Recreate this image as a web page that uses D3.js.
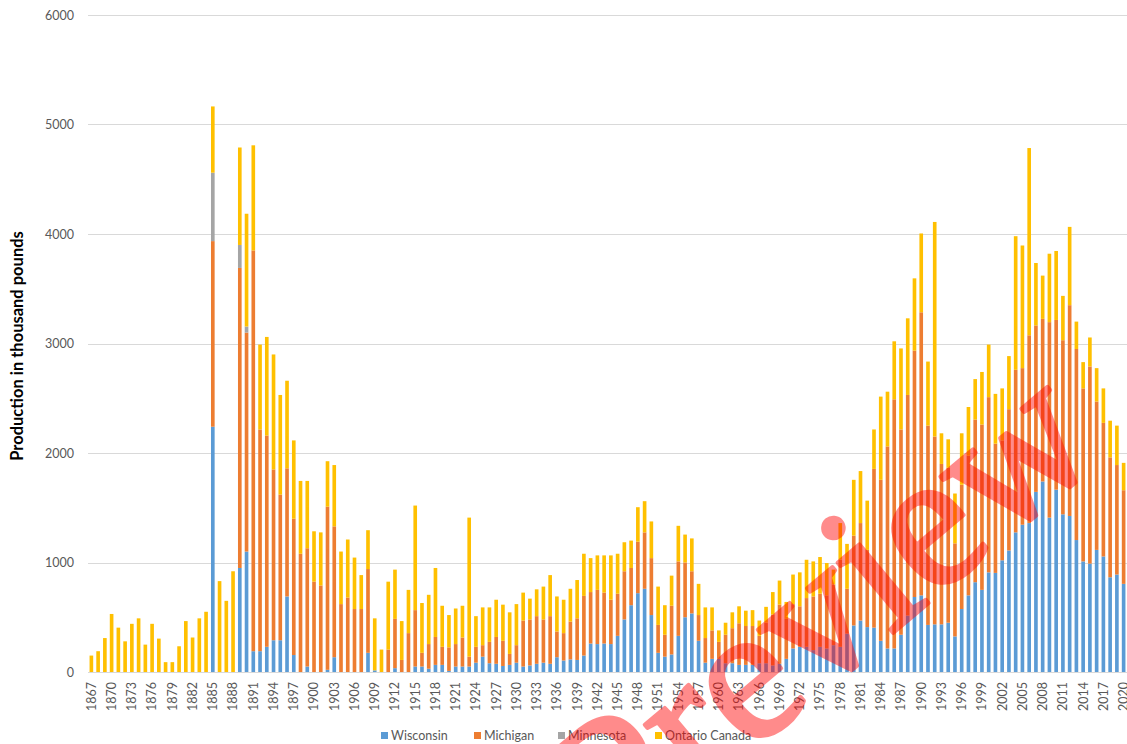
<!DOCTYPE html>
<html>
<head>
<meta charset="utf-8">
<script src="https://cdn.jsdelivr.net/npm/d3@7"></script>
<style>
	body { margin: 0; background: #fff; }
	text { font-family: Lato, "Open Sans", sans-serif; }
</style>
</head>
<body>
<script>
"use strict";

// years on the category axis
var firstYear = 1867, lastYear = 2020;
var years = d3.range(firstYear, lastYear + 1);

// production in thousand pounds, one value per year (1867 ... 2020)
var wisconsin = [
	0, 0, 0, 0, 0, 0, 0, 0, 0, 0,
	0, 0, 0, 0, 0, 0, 0, 0, 2240, 0,
	0, 0, 950, 1100, 190, 190, 230, 290, 290, 690,
	155, 0, 50, 0, 0, 20, 135, 0, 0, 0,
	0, 175, 15, 0, 0, 35, 0, 0, 50, 50,
	30, 65, 65, 10, 50, 50, 50, 85, 140, 80,
	75, 55, 65, 85, 50, 60, 75, 85, 75, 135,
	105, 115, 110, 150, 260, 255, 260, 255, 330, 480,
	610, 720, 760, 520, 175, 140, 160, 330, 500, 535,
	285, 85, 120, 120, 80, 80, 65, 65, 65, 80,
	80, 60, 75, 120, 215, 230, 230, 200, 230, 215,
	245, 230, 350, 425, 470, 410, 405, 285, 215, 215,
	340, 515, 685, 700, 430, 435, 435, 450, 325, 575,
	700, 820, 750, 910, 905, 1020, 1110, 1275, 1345, 1360,
	1645, 1740, 1410, 1665, 1440, 1425, 1205, 1010, 990, 1115,
	1055, 865, 890, 805
];

var michigan = [
	0, 0, 0, 0, 0, 0, 0, 0, 0, 0,
	0, 0, 0, 0, 0, 0, 0, 0, 1695, 0,
	0, 0, 2740, 2000, 3660, 2025, 1930, 1560, 1330, 1170,
	1245, 1080, 1080, 825, 790, 1490, 1195, 620, 680, 575,
	575, 765, 0, 0, 205, 450, 110, 355, 515, 125,
	225, 255, 165, 215, 205, 265, 90, 145, 105, 195,
	245, 230, 100, 160, 420, 420, 435, 395, 435, 235,
	250, 345, 380, 545, 470, 495, 465, 405, 385, 440,
	340, 470, 515, 520, 255, 200, 445, 680, 500, 385,
	235, 225, 260, 155, 260, 320, 380, 355, 355, 250,
	370, 465, 540, 365, 405, 370, 445, 490, 485, 485,
	555, 795, 410, 820, 890, 705, 1450, 1470, 1845, 2275,
	1875, 2015, 2250, 2585, 1820, 1715, 1465, 1415, 850, 1135,
	1275, 1485, 1510, 1600, 1180, 1095, 1290, 1485, 1430, 1715,
	1520, 1485, 1785, 1550, 1590, 1925, 1745, 1580, 1800, 1355,
	1220, 1095, 1000, 855
];

var minnesota = [
	0, 0, 0, 0, 0, 0, 0, 0, 0, 0,
	0, 0, 0, 0, 0, 0, 0, 0, 625, 0,
	0, 0, 210, 55, 0, 0, 0, 0, 0, 0,
	0, 0, 0, 0, 0, 0, 0, 0, 0, 0,
	0, 0, 0, 0, 0, 0, 0, 0, 0, 0,
	0, 0, 0, 0, 0, 0, 0, 0, 0, 0,
	0, 0, 0, 0, 0, 0, 0, 0, 0, 0,
	0, 0, 0, 0, 0, 0, 0, 0, 0, 0,
	0, 0, 0, 0, 0, 0, 0, 0, 0, 0,
	0, 0, 0, 0, 0, 0, 0, 0, 0, 0,
	0, 0, 0, 0, 0, 0, 0, 0, 0, 0,
	0, 0, 0, 0, 0, 0, 0, 0, 0, 0,
	0, 0, 0, 0, 0, 0, 0, 0, 0, 0,
	0, 0, 0, 0, 0, 0, 0, 0, 0, 0,
	0, 0, 0, 0, 0, 0, 0, 0, 0, 0,
	0, 0, 0, 0
];

var ontario = [
	150, 190, 310, 530, 405, 280, 440, 490, 250, 440,
	305, 90, 90, 235, 465, 315, 490, 550, 605, 830,
	650, 920, 890, 1030, 960, 775, 900, 1050, 910, 800,
	715, 665, 615, 460, 485, 415, 560, 480, 530, 470,
	310, 355, 475, 205, 620, 450, 355, 395, 955, 455,
	450, 630, 375, 295, 325, 290, 1270, 280, 345, 315,
	340, 330, 380, 375, 255, 190, 245, 300, 375, 320,
	305, 300, 350, 385, 310, 315, 340, 405, 365, 265,
	250, 315, 285, 335, 350, 270, 275, 325, 255, 300,
	285, 280, 210, 105, 110, 145, 155, 140, 145, 140,
	145, 205, 220, 155, 270, 310, 350, 320, 335, 295,
	135, 335, 410, 510, 475, 450, 360, 760, 500, 530,
	740, 700, 660, 720, 585, 1960, 280, 260, 455, 470,
	445, 370, 480, 480, 455, 475, 485, 1220, 1120, 1710,
	570, 395, 625, 630, 405, 715, 250, 240, 265, 305,
	315, 335, 360, 250
];

var seriesNames = ["Wisconsin", "Michigan", "Minnesota", "Ontario Canada"];
var seriesColors = ["#5b9bd5", "#ed7d31", "#a5a5a5", "#ffc000"];
var yTicks = [0, 1000, 2000, 3000, 4000, 5000, 6000];
var yTitle = "Production in thousand pounds";

// table for d3.stack
var rows = years.map(function (yr, i) {
	return {
		year: yr,
		"Wisconsin": wisconsin[i],
		"Michigan": michigan[i],
		"Minnesota": minnesota[i],
		"Ontario Canada": ontario[i]
	};
});

var width = 1127, height = 744;
var plotLeft = 88, plotRight = 1127, plotTop = 15, plotBottom = 672;

var svg = d3.select("body").append("svg")
	.attr("width", width)
	.attr("height", height);

var x = d3.scaleBand()
	.domain(years)
	.range([plotLeft, plotRight])
	.paddingInner(0.46)
	.paddingOuter(0.23);

var y = d3.scaleLinear()
	.domain([0, 6000])
	.range([plotBottom, plotTop]);

var color = d3.scaleOrdinal().domain(seriesNames).range(seriesColors);

// gridlines
svg.append("g")
	.selectAll("line")
	.data(yTicks)
	.join("line")
	.attr("x1", plotLeft)
	.attr("x2", plotRight)
	.attr("y1", function (d) { return Math.round(y(d)) + 0.5; })
	.attr("y2", function (d) { return Math.round(y(d)) + 0.5; })
	.attr("stroke", "#d9d9d9")
	.attr("stroke-width", 1);

// y axis labels
var yAxis = svg.append("g")
	.attr("transform", "translate(" + plotLeft + ",0)")
	.call(d3.axisLeft(y).tickValues(yTicks).tickSize(0).tickPadding(14).tickFormat(d3.format("d")));
yAxis.select(".domain").remove();
yAxis.selectAll("text")
	.attr("fill", "#595959")
	.style("font-size", "12.5px");

// stacked bars
var stacked = d3.stack().keys(seriesNames)(rows);

svg.append("g")
	.selectAll("g")
	.data(stacked)
	.join("g")
	.attr("fill", function (d) { return color(d.key); })
	.selectAll("rect")
	.data(function (d) { return d; })
	.join("rect")
	.attr("x", function (d) { return x(d.data.year); })
	.attr("width", x.bandwidth())
	.attr("y", function (d) { return y(d[1]); })
	.attr("height", function (d) { return Math.max(0, y(d[0]) - y(d[1])); });

// x axis: every third year, rotated
var xAxis = svg.append("g")
	.attr("transform", "translate(0," + plotBottom + ")")
	.call(d3.axisBottom(x)
		.tickValues(years.filter(function (d) { return (d - firstYear) % 3 === 0; }))
		.tickSize(0)
		.tickPadding(0));
xAxis.select(".domain")
	.attr("stroke", "#d9d9d9");
xAxis.selectAll("text")
	.attr("fill", "#595959")
	.style("font-size", "12.5px")
	.attr("text-anchor", "end")
	.attr("transform", "rotate(-90)")
	.attr("x", -10)
	.attr("y", 0)
	.attr("dy", "0.35em");

// y axis title
svg.append("text")
	.attr("transform", "translate(23,346) rotate(-90)")
	.attr("text-anchor", "middle")
	.attr("fill", "#000")
	.style("font-size", "16.5px")
	.style("font-weight", "bold")
	.text(yTitle);

// legend
var legendX = [381, 474, 558, 655];
var legend = svg.append("g")
	.selectAll("g")
	.data(seriesNames)
	.join("g")
	.attr("transform", function (d, i) { return "translate(" + legendX[i] + ",736)"; });

legend.append("rect")
	.attr("x", 0)
	.attr("y", -4)
	.attr("width", 7)
	.attr("height", 7)
	.attr("fill", function (d) { return color(d); });

legend.append("text")
	.attr("x", 10)
	.attr("y", 0)
	.attr("dy", "0.35em")
	.attr("fill", "#595959")
	.style("font-size", "12.5px")
	.text(function (d) { return d; });

// preview watermark over the picture
svg.append("g")
	.attr("opacity", 0.45)
	.append("text")
	.attr("transform", "translate(861,660) rotate(-40)")
	.attr("text-anchor", "middle")
	.attr("fill", "#ff0000")
	.attr("stroke", "#ff0000")
	.attr("stroke-width", 4)
	.attr("stroke-linejoin", "round")
	.style("font-family", "'Liberation Serif', 'DejaVu Serif', serif")
	.style("font-size", "195px")
	.text("Preview");
</script>
</body>
</html>
